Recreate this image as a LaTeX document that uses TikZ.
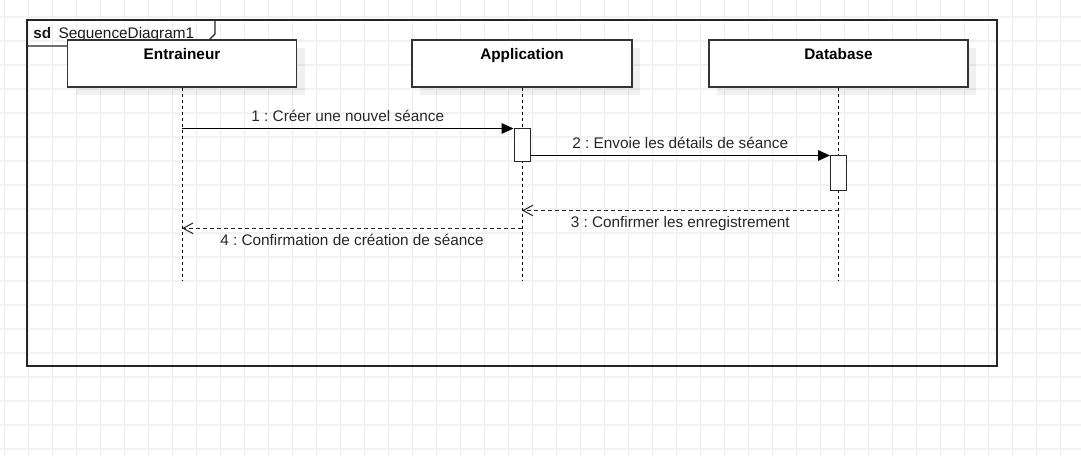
\documentclass[tikz,border=0pt]{standalone}
\usepackage{fontspec}
\setmainfont{Liberation Sans}
\usetikzlibrary{arrows.meta,positioning,shadows}
\frenchspacing

\begin{document}
\begin{tikzpicture}[x=0.75pt,y=-0.75pt,
	every node/.style={font=\fontsize{11.5}{13.8}\selectfont},
	lifebox/.style={draw=black!80, fill=white, line width=0.85pt, minimum height=35.25pt, inner sep=0pt,
		drop shadow={shadow xshift=6pt, shadow yshift=-6pt, fill=black, opacity=0.06}},
	boxtitle/.style={font=\fontsize{11.5}{13.8}\selectfont\bfseries, text=black},
	lifeline/.style={draw=black, line width=0.75pt, dash pattern=on 2.25pt off 2.25pt},
	actbar/.style={draw=black!85, fill=white, line width=0.75pt, minimum width=12pt, inner sep=0pt},
	syncmsg/.style={draw=black, line width=0.75pt, -{Triangle[length=9pt,width=8pt]}},
	replymsg/.style={draw=black!85, line width=0.75pt, dash pattern=on 3pt off 2.25pt, -{Straight Barb[length=7.5pt,width=8pt]}},
	msglbl/.style={text=black!85}]
	\useasboundingbox (0,0) rectangle (1081,456);
	
	% grid
	\foreach \i in {0,...,44} {
		\draw[black!7, line width=0.75pt] (4+24*\i,0) -- (4+24*\i,456);
	}
	\foreach \j in {0,...,18} {
		\draw[black!5, line width=1.2pt] (0,17+24*\j) -- (1081,17+24*\j);
	}
	
	% frame
	\draw[black!85, line width=0.8pt] (27,20) rectangle (997,366);
	\draw[black!85, line width=0.8pt] (27,46) -- (203,46) -- (215,34) -- (215,20);
	\node[anchor=west, inner sep=2pt, text=black!90] (sdlbl) at (30.5,34.4) {\textbf{sd}\hspace{5.5pt}SequenceDiagram1};
	
	% lifelines
	\node[lifebox, minimum width=171.75pt] (ent) at (182,63.5) {};
	\node[lifebox, minimum width=165pt] (app) at (522,63.5) {};
	\node[lifebox, minimum width=194.25pt] (db) at (838.5,63.5) {};
	\node[boxtitle, below=3.5pt of ent.north] (entT) {Entraineur};
	\node[boxtitle, below=3.5pt of app.north] (appT) {Application};
	\node[boxtitle, below=3.5pt of db.north] (dbT) {Database};
	
	\coordinate (bottom) at (0,280);
	\foreach \n in {ent,app,db} {
		\draw[lifeline] (\n.south) -- (\n.south |- bottom);
	}
	
	\node[actbar, minimum height=24.75pt] (act1) at (522,145.5) {};
	\node[actbar, minimum height=25.5pt] (act2) at (838.5,173) {};
	
	% messages
	\draw[syncmsg] (ent.south |- act1.north) -- (act1.north west)
		node[msglbl, midway, above=1.4pt] (m1) {1 : Créer une nouvel séance};
	\draw[syncmsg] (act1.east |- act2.north) -- (act2.north west)
		node[msglbl, midway, above=1.4pt] (m2) {2 : Envoie les détails de séance};
	
	\coordinate (y3) at (0,210.5);
	\coordinate (y4) at (0,228.3);
	\draw[replymsg] (db.south |- y3) -- (app.south |- y3)
		node[msglbl, midway, below=0.5pt] (m3) {3 : Confirmer les enregistrement};
	\draw[replymsg] (app.south |- y4) -- (ent.south |- y4)
		node[msglbl, midway, below=0.9pt] (m4) {4 : Confirmation de création de séance};
\end{tikzpicture}
\end{document}
